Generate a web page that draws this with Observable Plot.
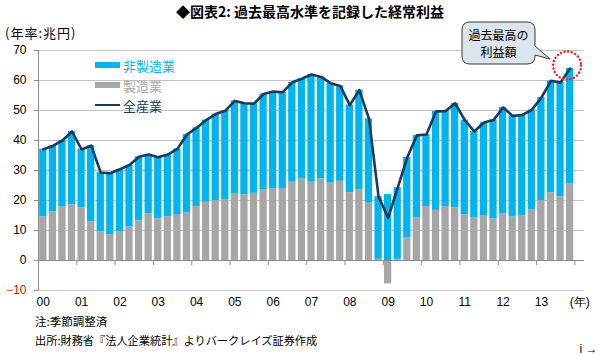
<!DOCTYPE html>
<html><head><meta charset="utf-8">
<script src="https://cdn.jsdelivr.net/npm/d3@7"></script>
<script src="https://cdn.jsdelivr.net/npm/@observablehq/plot@0.6"></script>
<style>
html,body{margin:0;background:#fff;overflow:hidden;width:600px;height:355px}
#wrap{position:relative;width:600px;height:355px;font-family:"Noto Sans CJK JP","Noto Sans",sans-serif;overflow:hidden;background:#fff}
.t{position:absolute;white-space:nowrap;line-height:1}
#wrap svg.plot{position:absolute;left:0;top:0}
</style></head><body>
<div id="wrap"></div>
<script>
// Fiscal year labels (quarterly data, 2000Q1 – 2013Q4)
const years = ["00","01","02","03","04","05","06","07","08","09","10","11","12","13"];
const endLabel = "(年)";
const quarterNames = ["Q1","Q2","Q3","Q4"];
const yTicks = [-10, 0, 10, 20, 30, 40, 50, 60, 70];

// 製造業 (manufacturing), 兆円 annualized
const manufacturing = [
  14.5, 16.2, 17.9, 18.6,
  17.6, 12.9, 9.5, 8.6,
  9.5, 11.2, 13.2, 15.6,
  13.9, 14.6, 15.3, 15.9,
  18.0, 19.4, 20.0, 20.3,
  22.2, 21.9, 22.4, 23.6,
  23.9, 23.9, 26.1, 27.2,
  26.1, 27.2, 25.8, 26.4,
  22.6, 23.6, 19.1, 0.4,
  -7.8, 0.4, 7.5, 14.2,
  18.0, 16.7, 18.0, 17.6,
  15.2, 14.2, 14.8, 13.9,
  15.6, 14.5, 14.9, 16.9,
  20.0, 22.6, 21.2, 25.6
];
// 非製造業 (non-manufacturing)
const nonManufacturing = [
  22.6, 22.0, 22.1, 24.4,
  19.4, 25.4, 19.8, 20.5,
  20.9, 20.6, 21.4, 19.7,
  20.5, 20.7, 21.9, 26.1,
  26.2, 27.4, 28.8, 29.6,
  31.0, 30.5, 29.9, 31.9,
  32.4, 32.2, 33.3, 33.4,
  35.9, 34.0, 33.3, 31.8,
  29.2, 33.2, 28.1, 20.9,
  22.0, 23.9, 26.9, 27.5,
  24.0, 33.0, 31.8, 34.8,
  31.6, 28.8, 31.2, 32.9,
  35.4, 33.7, 33.6, 33.3,
  34.3, 37.3, 38.1, 38.4
];

const quarters = years.flatMap(y => quarterNames.map(q => y + q));
const rows = quarters.map((q, i) => {
  const m = manufacturing[i], n = nonManufacturing[i];
  const base = Math.max(m, 0);
  return {q, i, m, n, base, top: base + n, total: m + n};
});
const nSlots = quarters.length + 1; // extra slot for "(年)"
const yearStarts = d3.range(0, nSlots, 4);
const yearBounds = d3.range(3.5, quarters.length, 4);

const CYAN = "#00b4ef", GRAY = "#a6a6a6", NAVY = "#1d3a5c", AXIS = "#8c8c8c", GRID = "#c4c4c4";

const plot = Plot.plot({
  width: 600, height: 355,
  marginTop: 50, marginBottom: 65, marginLeft: 38, marginRight: 16,
  style: {fontFamily: "'Liberation Sans', Arial, sans-serif", fontSize: "12px", background: "transparent", color: "#000", overflow: "hidden"},
  x: {type: "linear", domain: [-0.5, nSlots - 0.5]},
  y: {domain: [-10, 70]},
  marks: [
    Plot.gridY({ticks: yTicks.filter(d => d > 0), stroke: GRID, strokeOpacity: 1}),
    Plot.ruleY([-10], {stroke: GRID}),
    Plot.rectY(rows, {x1: d => d.i - 0.5, x2: d => d.i + 0.5, y1: 0, y2: "m", fill: GRAY, insetLeft: 1.15, insetRight: 1.15}),
    Plot.rectY(rows, {x1: d => d.i - 0.5, x2: d => d.i + 0.5, y1: "base", y2: "top", fill: CYAN, insetLeft: 1.15, insetRight: 1.15}),
    Plot.ruleY([0], {stroke: AXIS}),
    Plot.ruleX(yearBounds, {x: d => d, y1: 0, y2: 0, insetBottom: -5, stroke: AXIS}),
    Plot.ruleX([-0.5], {stroke: AXIS}),
    Plot.line(rows, {x: "i", y: "total", stroke: NAVY, strokeWidth: 2.6, strokeLinejoin: "round"}),
    Plot.dot(rows.slice(-1), {x: "i", y: "total", r: 14, dx: -3, dy: -3, stroke: "#ff1a1a", strokeWidth: 2.4, strokeDasharray: "0.1 3.6", strokeLinecap: "round", fill: "none"}),
    Plot.axisY({ticks: yTicks.filter(d => d >= 0), tickSize: 4, tickPadding: 8, stroke: AXIS, fill: "#000"}),
    Plot.axisY({ticks: [-10], tickSize: 4, tickPadding: 8, stroke: AXIS, fill: "#ff0000"}),
    Plot.axisX({ticks: yearStarts, tickSize: 0, tickPadding: 7, fill: "#000",
      tickFormat: i => i < quarters.length ? years[i / 4] : endLabel})
  ]
});
plot.classList.add("plot");
const wrap = document.getElementById("wrap");
wrap.appendChild(plot);

function addText(txt, css) {
  const d = document.createElement("div");
  d.className = "t"; d.textContent = txt;
  Object.assign(d.style, css);
  wrap.appendChild(d);
  return d;
}
// title & unit
addText("◆図表2: 過去最高水準を記録した経常利益", {left: "10px", width: "600px", textAlign: "center", top: "4px", fontSize: "14px", fontWeight: "bold", color: "#000"});
addText("(年率:兆円)", {left: "5px", top: "26px", fontSize: "13px", letterSpacing: "1px", color: "#000"});
// legend
const legend = [
  {label: "非製造業", color: CYAN, h: 6, top: 62},
  {label: "製造業", color: GRAY, h: 6, top: 82},
  {label: "全産業", color: NAVY, h: 2.6, top: 103.7}
];
legend.forEach((l, k) => {
  const sw = document.createElement("div");
  Object.assign(sw.style, {position: "absolute", left: "95px", top: l.top + "px", width: "25px", height: l.h + "px", background: l.color});
  wrap.appendChild(sw);
  addText(l.label, {left: "123px", top: (58.5 + k * 20) + "px", fontSize: "13px", color: l.color});
});
// notes
addText("注:季節調整済", {left: "35px", top: "316px", fontSize: "11.5px", color: "#000"});
addText("出所:財務省『法人企業統計』よりバークレイズ証券作成", {left: "35px", top: "335px", fontSize: "11.2px", color: "#000"});

// callout bubble
const ns = "http://www.w3.org/2000/svg";
const ov = document.createElementNS(ns, "svg");
ov.setAttribute("width", 600); ov.setAttribute("height", 355);
Object.assign(ov.style, {position: "absolute", left: 0, top: 0, pointerEvents: "none"});
ov.innerHTML = `<path d="M470,22 H527 Q535,22 535,30 V46 L550,59 L535,55 V56 Q535,64 527,64 H470 Q462,64 462,56 V30 Q462,22 470,22 Z" fill="#dce4ec" stroke="#3a3a3a" stroke-width="1"/>
<text x="498.5" y="40" text-anchor="middle" font-size="12" font-family="Noto Sans CJK JP" fill="#000">過去最高の</text>
<text x="498.5" y="57" text-anchor="middle" font-size="12" font-family="Noto Sans CJK JP" fill="#000">利益額</text>`;
wrap.appendChild(ov);
</script>
</body></html>
